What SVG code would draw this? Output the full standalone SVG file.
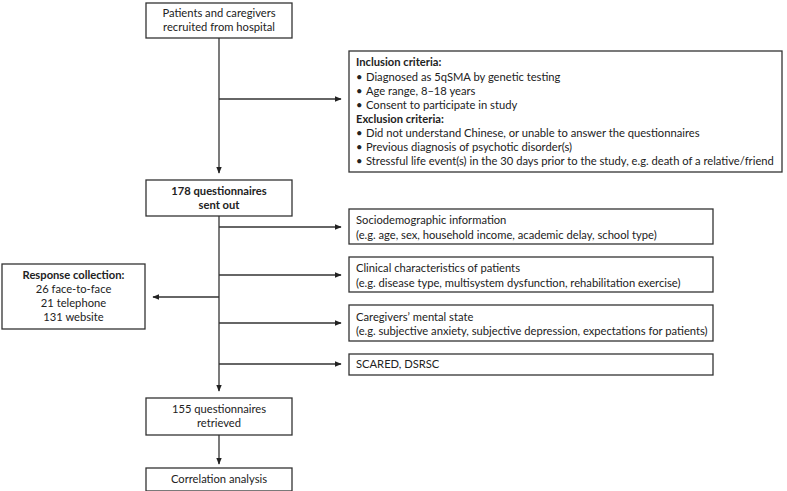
<svg xmlns="http://www.w3.org/2000/svg" width="787" height="491" viewBox="0 0 787 491">
<defs>
<marker id="ah" viewBox="0 0 10 10" refX="9" refY="5" markerWidth="7" markerHeight="7" markerUnits="userSpaceOnUse" orient="auto">
<path d="M0,1 L10,5 L0,9 z" fill="#222"/>
</marker>
<style>
.box{fill:#fff;stroke:#333;stroke-width:1.3}
.t{font-family:Lato,"Liberation Sans",sans-serif;font-size:11.2px;fill:#222}
.c{text-anchor:middle}
.b{font-weight:bold}
.ln{stroke:#333;stroke-width:1.3;fill:none}
.arr{stroke:#333;stroke-width:1.3;fill:none;marker-end:url(#ah)}
</style>
</defs>
<rect width="787" height="491" fill="#fff"/>
<g id="connectors">
<line class="arr" x1="219" y1="38" x2="219" y2="173"/>
<line class="arr" x1="219" y1="99" x2="341" y2="99"/>
<line class="ln" x1="219" y1="216" x2="219" y2="364"/>
<line class="arr" x1="219" y1="364" x2="219" y2="391"/>
<line class="arr" x1="219" y1="227" x2="341" y2="227"/>
<line class="arr" x1="219" y1="275" x2="341" y2="275"/>
<line class="arr" x1="219" y1="323" x2="341" y2="323"/>
<line class="arr" x1="219" y1="364" x2="341" y2="364"/>
<line class="arr" x1="219" y1="297" x2="153" y2="297"/>
<line class="arr" x1="219" y1="435" x2="219" y2="464"/>
</g>
<g id="n1">
<rect class="box" x="146" y="3" width="146" height="35"/>
<text class="t c" x="219" y="17">Patients and caregivers</text>
<text class="t c" x="219" y="31">recruited from hospital</text>
</g>
<g id="criteria">
<rect class="box" x="349" y="51" width="433" height="121"/>
<text class="t b" x="356" y="66">Inclusion criteria:</text>
<text class="t" x="356" y="81">•</text><text class="t" x="366" y="81">Diagnosed as 5qSMA by genetic testing</text>
<text class="t" x="356" y="95">•</text><text class="t" x="366" y="95">Age range, 8–18 years</text>
<text class="t" x="356" y="109">•</text><text class="t" x="366" y="109">Consent to participate in study</text>
<text class="t b" x="356" y="123">Exclusion criteria:</text>
<text class="t" x="356" y="137">•</text><text class="t" x="366" y="137">Did not understand Chinese, or unable to answer the questionnaires</text>
<text class="t" x="356" y="151">•</text><text class="t" x="366" y="151">Previous diagnosis of psychotic disorder(s)</text>
<text class="t" x="356" y="165">•</text><text class="t" x="366" y="165">Stressful life event(s) in the 30 days prior to the study, e.g. death of a relative/friend</text>
</g>
<g id="n2">
<rect class="box" x="146" y="180" width="146" height="36"/>
<text class="t c b" x="219" y="195">178 questionnaires</text>
<text class="t c b" x="219" y="209">sent out</text>
</g>
<g id="socio">
<rect class="box" x="349" y="209" width="364" height="35"/>
<text class="t" x="356" y="224">Sociodemographic information</text>
<text class="t" x="356" y="239">(e.g. age, sex, household income, academic delay, school type)</text>
</g>
<g id="clinical">
<rect class="box" x="349" y="257" width="364" height="35"/>
<text class="t" x="356" y="272">Clinical characteristics of patients</text>
<text class="t" x="356" y="287">(e.g. disease type, multisystem dysfunction, rehabilitation exercise)</text>
</g>
<g id="response">
<rect class="box" x="2" y="264" width="143" height="65"/>
<text class="t c b" x="73.5" y="279">Response collection:</text>
<text class="t c" x="73.5" y="293">26 face-to-face</text>
<text class="t c" x="73.5" y="307">21 telephone</text>
<text class="t c" x="73.5" y="321">131 website</text>
</g>
<g id="mental">
<rect class="box" x="349" y="305" width="364" height="36"/>
<text class="t" x="356" y="321">Caregivers’ mental state</text>
<text class="t" x="356" y="335">(e.g. subjective anxiety, subjective depression, expectations for patients)</text>
</g>
<g id="scared">
<rect class="box" x="349" y="354" width="364" height="21"/>
<text class="t" x="356" y="368">SCARED, DSRSC</text>
</g>
<g id="n3">
<rect class="box" x="146" y="398" width="146" height="37"/>
<text class="t c" x="219" y="413">155 questionnaires</text>
<text class="t c" x="219" y="427">retrieved</text>
</g>
<g id="n4">
<rect class="box" x="146" y="468" width="146" height="23"/>
<text class="t c" x="219" y="483">Correlation analysis</text>
</g>
</svg>
